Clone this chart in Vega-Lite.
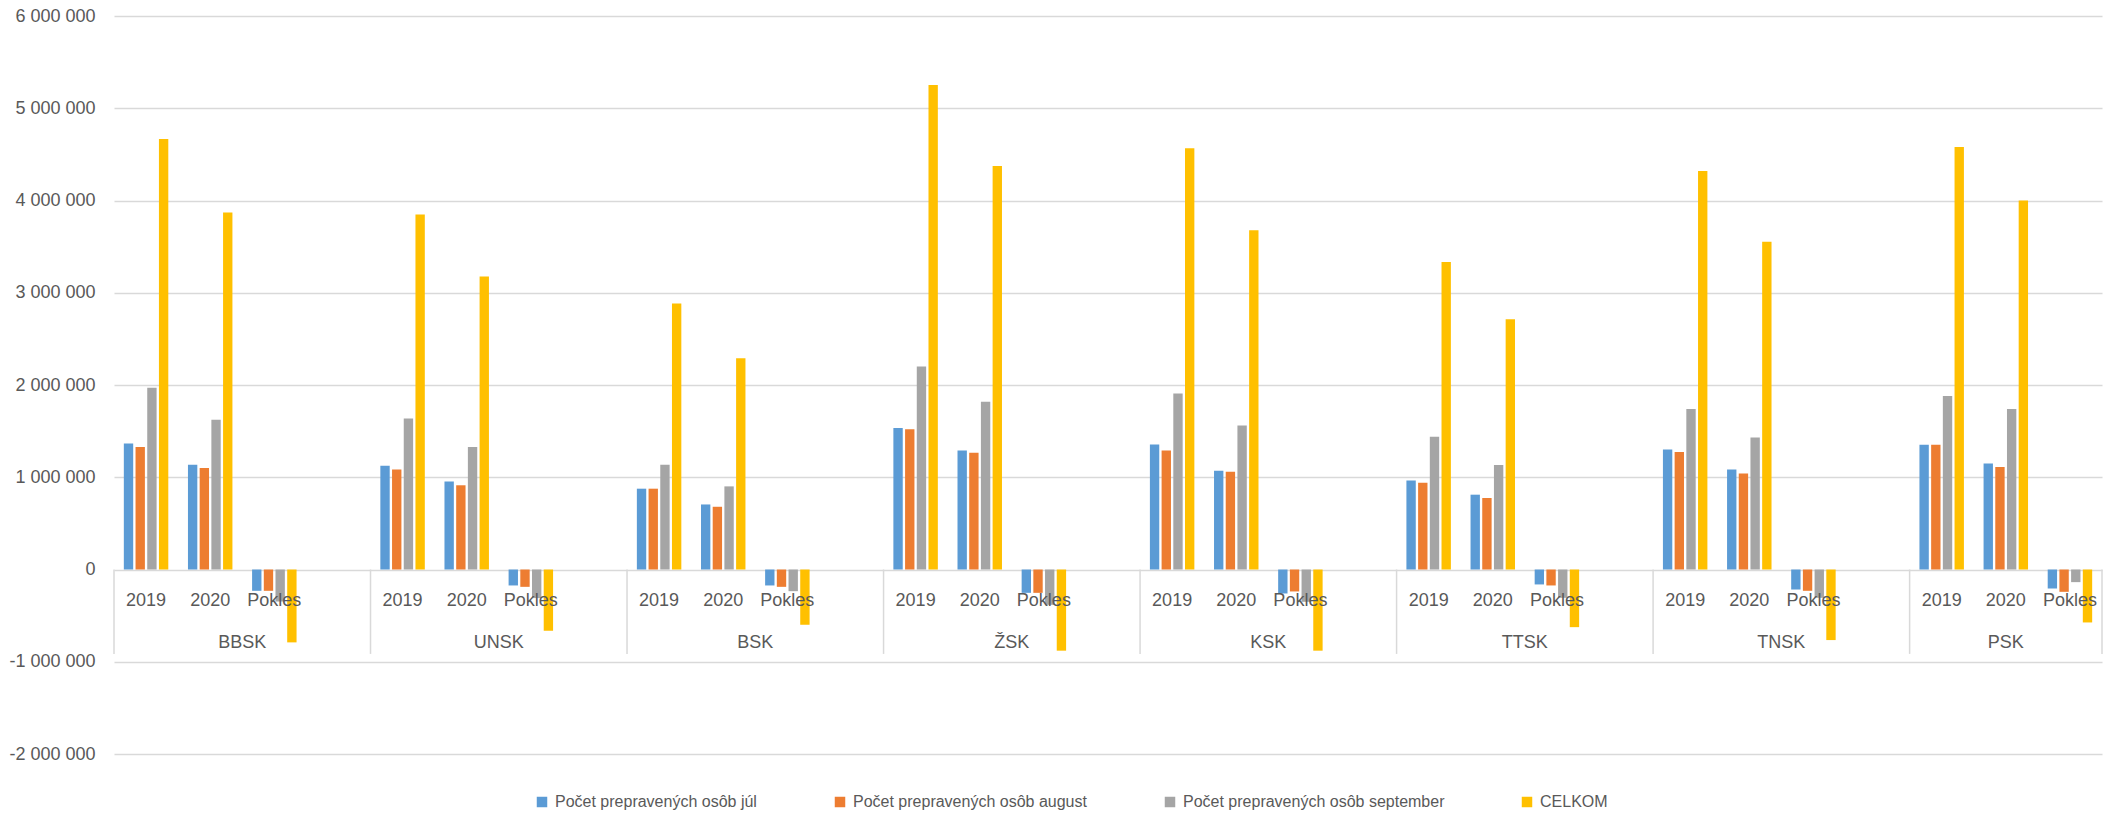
{
  "$schema": "https://vega.github.io/schema/vega-lite/v6.json",
  "width": 1988,
  "height": 738,
  "autosize": {"type": "none"},
  "padding": {"left": 114, "top": 16, "right": 16, "bottom": 62},
  "background": "white",
  "config": {
    "view": {"stroke": null},
    "font": "Liberation Sans"
  },
  "datasets": {
    "bars": [
      {"k":"BBSK 2019","s":"júl","v":1367000},{"k":"BBSK 2019","s":"august","v":1327000},{"k":"BBSK 2019","s":"september","v":1970000},{"k":"BBSK 2019","s":"CELKOM","v":4668000},
      {"k":"BBSK 2020","s":"júl","v":1136000},{"k":"BBSK 2020","s":"august","v":1100000},{"k":"BBSK 2020","s":"september","v":1623000},{"k":"BBSK 2020","s":"CELKOM","v":3870000},
      {"k":"BBSK Pokles","s":"júl","v":-231000},{"k":"BBSK Pokles","s":"august","v":-231000},{"k":"BBSK Pokles","s":"september","v":-347000},{"k":"BBSK Pokles","s":"CELKOM","v":-790000},
      {"k":"UNSK 2019","s":"júl","v":1125000},{"k":"UNSK 2019","s":"august","v":1085000},{"k":"UNSK 2019","s":"september","v":1638000},{"k":"UNSK 2019","s":"CELKOM","v":3848000},
      {"k":"UNSK 2020","s":"júl","v":953000},{"k":"UNSK 2020","s":"august","v":913000},{"k":"UNSK 2020","s":"september","v":1328000},{"k":"UNSK 2020","s":"CELKOM","v":3176000},
      {"k":"UNSK Pokles","s":"júl","v":-173000},{"k":"UNSK Pokles","s":"august","v":-188000},{"k":"UNSK Pokles","s":"september","v":-310000},{"k":"UNSK Pokles","s":"CELKOM","v":-664000},
      {"k":"BSK 2019","s":"júl","v":876000},{"k":"BSK 2019","s":"august","v":876000},{"k":"BSK 2019","s":"september","v":1136000},{"k":"BSK 2019","s":"CELKOM","v":2884000},
      {"k":"BSK 2020","s":"júl","v":705000},{"k":"BSK 2020","s":"august","v":680000},{"k":"BSK 2020","s":"september","v":901000},{"k":"BSK 2020","s":"CELKOM","v":2291000},
      {"k":"BSK Pokles","s":"júl","v":-173000},{"k":"BSK Pokles","s":"august","v":-188000},{"k":"BSK Pokles","s":"september","v":-235000},{"k":"BSK Pokles","s":"CELKOM","v":-599000},
      {"k":"ŽSK 2019","s":"júl","v":1533000},{"k":"ŽSK 2019","s":"august","v":1519000},{"k":"ŽSK 2019","s":"september","v":2201000},{"k":"ŽSK 2019","s":"CELKOM","v":5253000},
      {"k":"ŽSK 2020","s":"júl","v":1291000},{"k":"ŽSK 2020","s":"august","v":1266000},{"k":"ŽSK 2020","s":"september","v":1818000},{"k":"ŽSK 2020","s":"CELKOM","v":4375000},
      {"k":"ŽSK Pokles","s":"júl","v":-253000},{"k":"ŽSK Pokles","s":"august","v":-253000},{"k":"ŽSK Pokles","s":"september","v":-383000},{"k":"ŽSK Pokles","s":"CELKOM","v":-880000},
      {"k":"KSK 2019","s":"júl","v":1356000},{"k":"KSK 2019","s":"august","v":1291000},{"k":"KSK 2019","s":"september","v":1909000},{"k":"KSK 2019","s":"CELKOM","v":4567000},
      {"k":"KSK 2020","s":"júl","v":1071000},{"k":"KSK 2020","s":"august","v":1060000},{"k":"KSK 2020","s":"september","v":1560000},{"k":"KSK 2020","s":"CELKOM","v":3678000},
      {"k":"KSK Pokles","s":"júl","v":-260000},{"k":"KSK Pokles","s":"august","v":-238000},{"k":"KSK Pokles","s":"september","v":-350000},{"k":"KSK Pokles","s":"CELKOM","v":-880000},
      {"k":"TTSK 2019","s":"júl","v":966000},{"k":"TTSK 2019","s":"august","v":941000},{"k":"TTSK 2019","s":"september","v":1439000},{"k":"TTSK 2019","s":"CELKOM","v":3332000},
      {"k":"TTSK 2020","s":"júl","v":811000},{"k":"TTSK 2020","s":"august","v":775000},{"k":"TTSK 2020","s":"september","v":1132000},{"k":"TTSK 2020","s":"CELKOM","v":2714000},
      {"k":"TTSK Pokles","s":"júl","v":-162000},{"k":"TTSK Pokles","s":"august","v":-173000},{"k":"TTSK Pokles","s":"september","v":-307000},{"k":"TTSK Pokles","s":"CELKOM","v":-625000},
      {"k":"TNSK 2019","s":"júl","v":1302000},{"k":"TNSK 2019","s":"august","v":1273000},{"k":"TNSK 2019","s":"september","v":1739000},{"k":"TNSK 2019","s":"CELKOM","v":4321000},
      {"k":"TNSK 2020","s":"júl","v":1085000},{"k":"TNSK 2020","s":"august","v":1042000},{"k":"TNSK 2020","s":"september","v":1432000},{"k":"TNSK 2020","s":"CELKOM","v":3552000},
      {"k":"TNSK Pokles","s":"júl","v":-217000},{"k":"TNSK Pokles","s":"august","v":-231000},{"k":"TNSK Pokles","s":"september","v":-307000},{"k":"TNSK Pokles","s":"CELKOM","v":-765000},
      {"k":"PSK 2019","s":"júl","v":1352000},{"k":"PSK 2019","s":"august","v":1352000},{"k":"PSK 2019","s":"september","v":1880000},{"k":"PSK 2019","s":"CELKOM","v":4581000},
      {"k":"PSK 2020","s":"júl","v":1150000},{"k":"PSK 2020","s":"august","v":1111000},{"k":"PSK 2020","s":"september","v":1739000},{"k":"PSK 2020","s":"CELKOM","v":4000000},
      {"k":"PSK Pokles","s":"júl","v":-206000},{"k":"PSK Pokles","s":"august","v":-242000},{"k":"PSK Pokles","s":"september","v":-137000},{"k":"PSK Pokles","s":"CELKOM","v":-574000}
    ],
    "subs": [
      {"k":"BBSK 2019","t":"2019"},{"k":"BBSK 2020","t":"2020"},{"k":"BBSK Pokles","t":"Pokles"},
      {"k":"UNSK 2019","t":"2019"},{"k":"UNSK 2020","t":"2020"},{"k":"UNSK Pokles","t":"Pokles"},
      {"k":"BSK 2019","t":"2019"},{"k":"BSK 2020","t":"2020"},{"k":"BSK Pokles","t":"Pokles"},
      {"k":"ŽSK 2019","t":"2019"},{"k":"ŽSK 2020","t":"2020"},{"k":"ŽSK Pokles","t":"Pokles"},
      {"k":"KSK 2019","t":"2019"},{"k":"KSK 2020","t":"2020"},{"k":"KSK Pokles","t":"Pokles"},
      {"k":"TTSK 2019","t":"2019"},{"k":"TTSK 2020","t":"2020"},{"k":"TTSK Pokles","t":"Pokles"},
      {"k":"TNSK 2019","t":"2019"},{"k":"TNSK 2020","t":"2020"},{"k":"TNSK Pokles","t":"Pokles"},
      {"k":"PSK 2019","t":"2019"},{"k":"PSK 2020","t":"2020"},{"k":"PSK Pokles","t":"Pokles"}
    ],
    "regs4": [
      {"k":"BBSK 2020","t":"BBSK"},{"k":"UNSK 2020","t":"UNSK"},{"k":"BSK 2020","t":"BSK"},{"k":"ŽSK 2020","t":"ŽSK"},
      {"k":"KSK 2020","t":"KSK"},{"k":"TTSK 2020","t":"TTSK"},{"k":"TNSK 2020","t":"TNSK"}
    ],
    "regs3": [{"k":"PSK 2020","t":"PSK"}],
    "seps": [
      {"k":"BBSK 2019"},{"k":"UNSK 2019"},{"k":"BSK 2019"},{"k":"ŽSK 2019"},{"k":"KSK 2019"},{"k":"TTSK 2019"},{"k":"TNSK 2019"},{"k":"PSK 2019"}
    ],
    "sepEnd": [{"k":"PSK Pokles"}]
  },
  "layer": [
    {
      "data": {"name": "bars"},
      "mark": {"type": "bar"},
      "encoding": {
        "x": {
          "field": "k", "type": "nominal", "axis": null,
          "scale": {
            "domain": ["BBSK 2019","BBSK 2020","BBSK Pokles","BBSK -","UNSK 2019","UNSK 2020","UNSK Pokles","UNSK -","BSK 2019","BSK 2020","BSK Pokles","BSK -","ŽSK 2019","ŽSK 2020","ŽSK Pokles","ŽSK -","KSK 2019","KSK 2020","KSK Pokles","KSK -","TTSK 2019","TTSK 2020","TTSK Pokles","TTSK -","TNSK 2019","TNSK 2020","TNSK Pokles","TNSK -","PSK 2019","PSK 2020","PSK Pokles"],
            "paddingInner": 0, "paddingOuter": 0
          }
        },
        "xOffset": {
          "field": "s", "type": "nominal",
          "scale": {"domain": ["júl","august","september","CELKOM"], "paddingInner": 0.2, "paddingOuter": 0.84}
        },
        "y": {
          "field": "v", "type": "quantitative",
          "scale": {"domain": [-2000000, 6000000], "nice": false, "zero": false},
          "axis": {
            "title": null, "values": [-2000000,-1000000,0,1000000,2000000,3000000,4000000,5000000,6000000],
            "labelExpr": "replace(replace(replace(format(datum.value, ',d'), ',', ' '), ',', ' '), '−', '-')",
            "domain": false, "ticks": false, "labelPadding": 19,
            "labelFontSize": 18, "labelColor": "#595959",
            "gridColor": "#D9D9D9", "gridWidth": 1.5
          }
        },
        "color": {
          "field": "s", "type": "nominal",
          "scale": {"domain": ["júl","august","september","CELKOM"], "range": ["#5B9BD5","#ED7D31","#A5A5A5","#FFC000"]},
          "legend": {
            "title": null, "orient": "none", "direction": "horizontal", "columns": 4,
            "legendX": 420, "legendY": 778,
            "labelExpr": "datum.label == 'CELKOM' ? 'CELKOM' : 'Počet prepravených osôb  ' + datum.label",
            "symbolType": "square", "symbolSize": 110, "symbolStrokeWidth": 0,
            "labelFontSize": 16, "labelColor": "#595959", "columnPadding": 70, "labelOffset": 5,
            "labelLimit": 0
          }
        }
      }
    },
    {
      "data": {"name": "seps"},
      "mark": {"type": "rule", "color": "#D9D9D9", "strokeWidth": 1.5},
      "encoding": {
        "x": {"field": "k", "type": "nominal", "bandPosition": 0},
        "y": {"datum": 0},
        "y2": {"datum": -915000}
      }
    },
    {
      "data": {"name": "sepEnd"},
      "mark": {"type": "rule", "color": "#D9D9D9", "strokeWidth": 1.5},
      "encoding": {
        "x": {"field": "k", "type": "nominal", "bandPosition": 1},
        "y": {"datum": 0},
        "y2": {"datum": -915000}
      }
    },
    {
      "data": {"name": "subs"},
      "mark": {"type": "text", "fontSize": 18, "color": "#595959", "baseline": "alphabetic", "dy": 36, "align": "center"},
      "encoding": {
        "x": {"field": "k", "type": "nominal"},
        "y": {"datum": 0},
        "text": {"field": "t"}
      }
    },
    {
      "data": {"name": "regs4"},
      "mark": {"type": "text", "fontSize": 18, "color": "#595959", "baseline": "alphabetic", "dy": 78, "align": "center"},
      "encoding": {
        "x": {"field": "k", "type": "nominal", "bandPosition": 1},
        "y": {"datum": 0},
        "text": {"field": "t"}
      }
    },
    {
      "data": {"name": "regs3"},
      "mark": {"type": "text", "fontSize": 18, "color": "#595959", "baseline": "alphabetic", "dy": 78, "align": "center"},
      "encoding": {
        "x": {"field": "k", "type": "nominal", "bandPosition": 0.5},
        "y": {"datum": 0},
        "text": {"field": "t"}
      }
    }
  ]
}
